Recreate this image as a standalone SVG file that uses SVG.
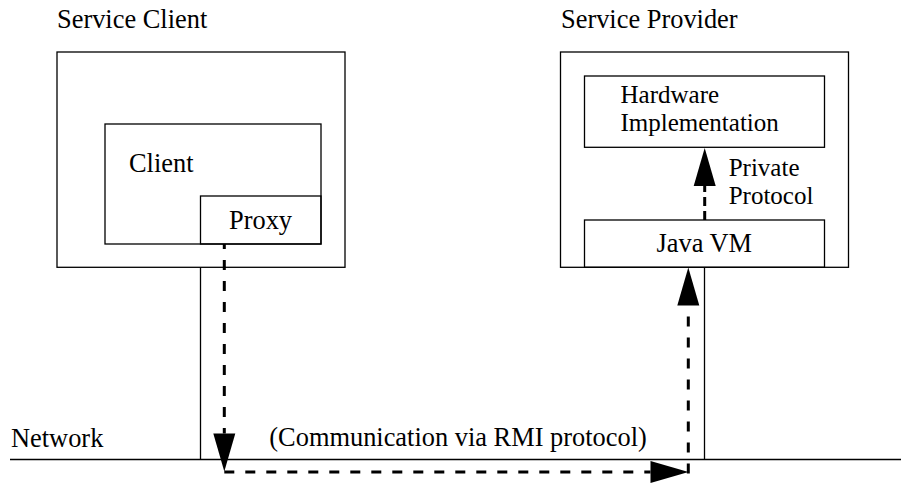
<svg xmlns="http://www.w3.org/2000/svg" width="901" height="483" viewBox="0 0 901 483">
  <style>
    .box { fill: none; stroke: #000; stroke-width: 1.3; }
    .solid { fill: none; stroke: #000; stroke-width: 1.3; }
    .dash { fill: none; stroke: #000; stroke-width: 3; stroke-dasharray: 10 11; }
    .dash2 { fill: none; stroke: #000; stroke-width: 3; stroke-dasharray: 9 5; }
    text { font-family: "Liberation Serif", "Times New Roman", serif; font-size: 26.4px; fill: #000; }
    text.two { font-size: 25px; }
  </style>
  <defs>
    <marker id="arrow" markerUnits="userSpaceOnUse" markerWidth="38" markerHeight="22" refX="0" refY="11" orient="auto" overflow="visible">
      <path d="M0,0 L38,11 L0,22 Z" fill="#000"/>
    </marker>
  </defs>
  <rect width="901" height="483" fill="#fff"/>

  <g id="network">
    <line class="solid" x1="10" y1="459.5" x2="901" y2="459.5"/>
    <text x="11" y="446.5">Network</text>
  </g>

  <g id="service-client">
    <text x="57" y="28.3">Service Client</text>
    <rect class="box" x="57" y="52" width="288" height="215.3"/>
    <line class="solid" x1="200.5" y1="267.3" x2="200.5" y2="459.5"/>
  </g>
  <g id="client">
    <rect class="box" x="105" y="124" width="216" height="120"/>
    <text x="129" y="172.3">Client</text>
  </g>
  <g id="proxy">
    <rect class="box" x="200.5" y="196" width="120.5" height="48"/>
    <text x="229" y="229.3">Proxy</text>
  </g>

  <g id="service-provider">
    <text x="561" y="28.3">Service Provider</text>
    <rect class="box" x="560.5" y="52" width="288" height="215.3"/>
    <line class="solid" x1="704.5" y1="267.3" x2="704.5" y2="459.5"/>
  </g>
  <g id="hardware">
    <rect class="box" x="584.5" y="76" width="240" height="71.3"/>
    <text class="two" x="620.5" y="102.8">Hardware</text>
    <text class="two" x="620.5" y="130.6">Implementation</text>
  </g>
  <g id="java-vm">
    <rect class="box" x="584.5" y="220" width="240" height="47.3"/>
    <text x="656.5" y="252.3">Java VM</text>
  </g>

  <g id="connectors">
    <path class="dash" d="M224.3,244 V433.5" stroke-dashoffset="5" marker-end="url(#arrow)"/>
    <path class="dash" d="M224.3,472 H650.5" marker-end="url(#arrow)"/>
    <path class="dash" d="M688.3,473.5 V305.5" marker-end="url(#arrow)"/>
    <path class="dash2" d="M704.7,220 V186" marker-end="url(#arrow)"/>
    <text x="269.3" y="446">(Communication via RMI protocol)</text>
    <text class="two" x="728.7" y="176.2">Private</text>
    <text class="two" x="728.7" y="204">Protocol</text>
  </g>
</svg>
